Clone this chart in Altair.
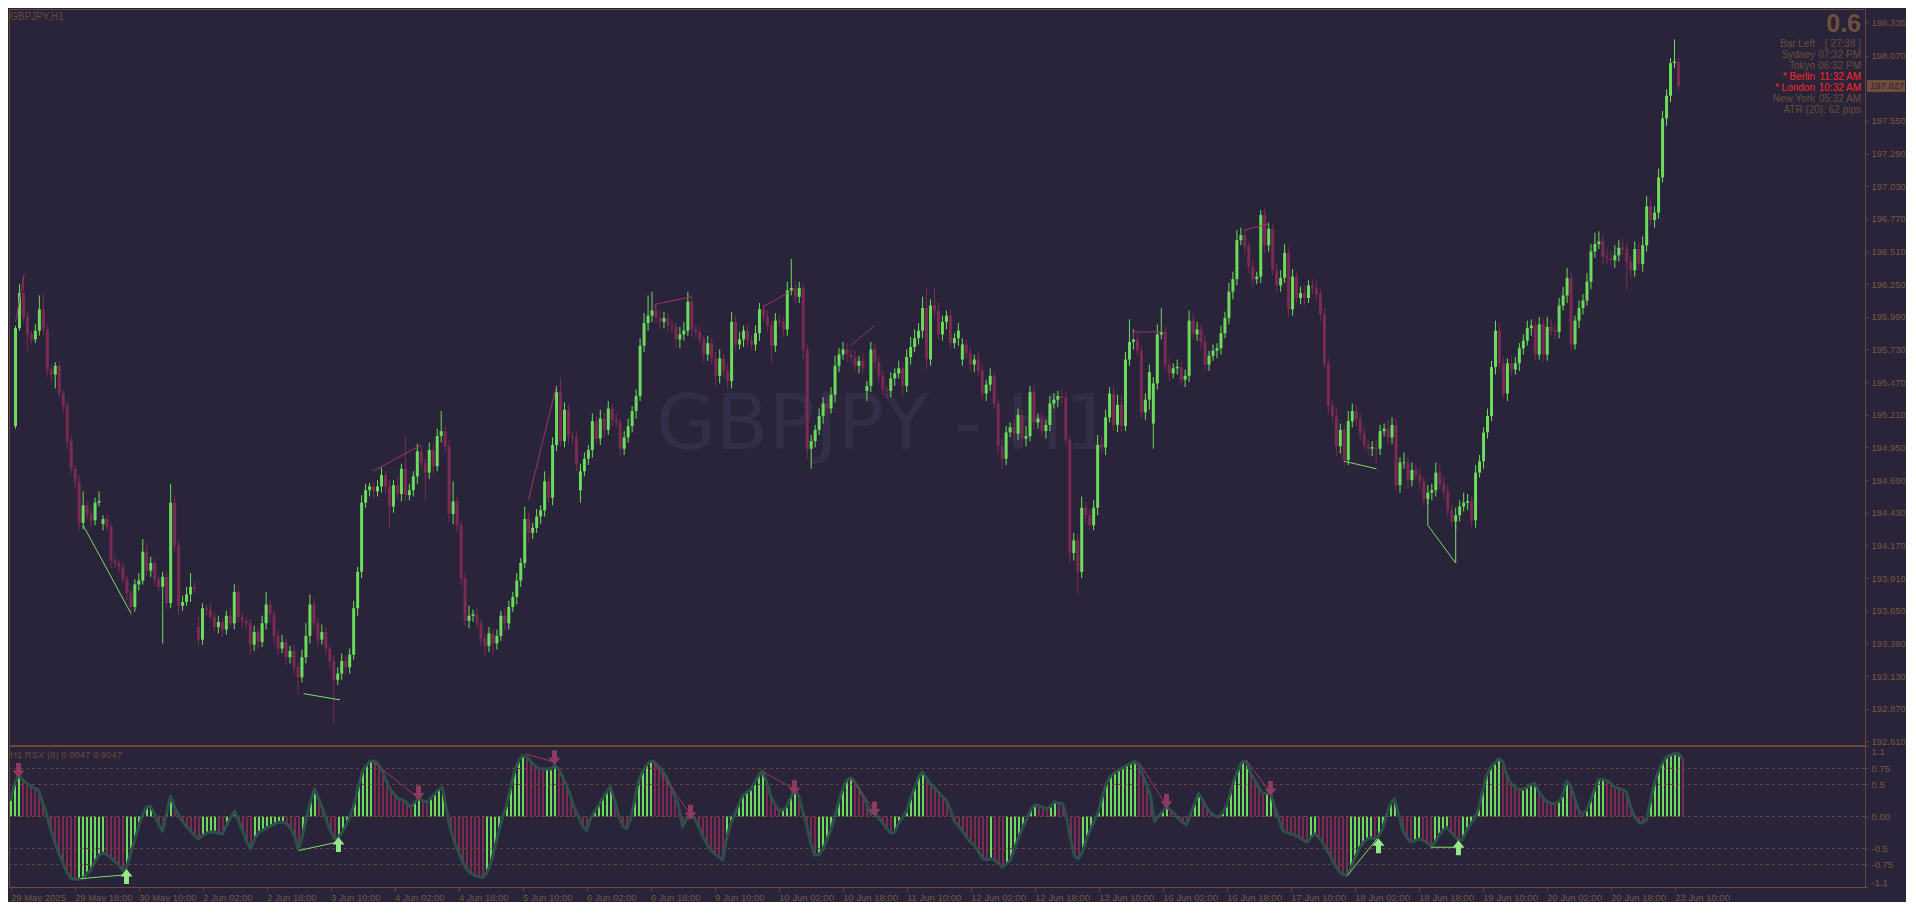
import json
import altair as alt
import pandas as pd

# ---------------- style ----------------
BG = "#292439"
FRAME = "#6b4838"
TXT = "#7a5643"
INFO = "#6b4c3d"
RED = "#ff2626"
UPC = "#6cdc5c"
DNC = "#7b2b52"
RSX_LINE = "#2d504b"
WATER = "#332e47"
FONT = "Liberation Sans"

# ---------------- data ----------------
x_labels = ["29 May 2025", "29 May 18:00", "30 May 10:00", "2 Jun 02:00", "2 Jun 18:00",
            "3 Jun 10:00", "4 Jun 02:00", "4 Jun 18:00", "5 Jun 10:00", "6 Jun 02:00",
            "6 Jun 18:00", "9 Jun 10:00", "10 Jun 02:00", "10 Jun 18:00", "11 Jun 10:00",
            "12 Jun 02:00", "12 Jun 18:00", "13 Jun 10:00", "16 Jun 02:00", "16 Jun 18:00",
            "17 Jun 10:00", "18 Jun 02:00", "18 Jun 18:00", "19 Jun 10:00", "20 Jun 02:00",
            "20 Jun 18:00", "23 Jun 10:00"]
x_tick_bars = [0, 16, 32, 48, 64, 80, 96, 112, 128, 144, 160, 176, 192, 208, 224,
               240, 256, 272, 288, 304, 320, 336, 352, 368, 384, 400, 416]

price_ticks = [192.610, 192.870, 193.130, 193.390, 193.650, 193.910, 194.170, 194.430,
               194.690, 194.950, 195.210, 195.470, 195.730, 195.990, 196.250, 196.510,
               196.770, 197.030, 197.290, 197.550, 198.070, 198.335]
rsx_ticks = [-1.1, -0.75, -0.5, 0.0, 0.5, 0.75, 1.1]
rsx_levels = [0.75, 0.5, 0.0, -0.5, -0.75]

first_open = 195.12
# bars whose open differs from the previous close (price gaps)
open_gaps = {22: 194.34, 46: 193.52, 142: 194.61, 214: 195.40, 238: 195.65, 286: 195.14}
close = [
    195.90, 196.18, 195.99, 195.85, 195.81, 195.88, 196.05, 195.89, 195.57, 195.53,
    195.60, 195.38, 195.28, 195.00, 194.78, 194.68, 194.35, 194.49, 194.42, 194.37,
    194.51, 194.52, 194.38, 194.32, 194.05, 194.03, 194.00, 193.90, 193.79, 193.68,
    193.86, 193.89, 194.12, 193.97, 194.03, 193.90, 193.84, 193.92, 193.71, 194.51,
    194.17, 193.69, 193.72, 193.78, 193.84, 193.83, 193.42, 193.67, 193.66, 193.60,
    193.52, 193.56, 193.50, 193.61, 193.55, 193.80, 193.60, 193.57, 193.55, 193.38,
    193.48, 193.40, 193.55, 193.70, 193.62, 193.45, 193.35, 193.40, 193.28, 193.33,
    193.20, 193.12, 193.28, 193.45, 193.70, 193.55, 193.42, 193.48, 193.35, 193.25,
    193.10, 193.15, 193.25, 193.20, 193.30, 193.67, 193.96, 194.51, 194.61, 194.64,
    194.60, 194.64, 194.73, 194.64, 194.48, 194.65, 194.58, 194.78, 194.57, 194.61,
    194.72, 194.92, 194.83, 194.75, 194.93, 194.80, 195.04, 195.08, 194.96, 194.42,
    194.52, 194.33, 193.91, 193.57, 193.61, 193.62, 193.55, 193.43, 193.37, 193.47,
    193.39, 193.45, 193.61, 193.55, 193.68, 193.76, 193.89, 194.03, 194.38, 194.27,
    194.31, 194.40, 194.45, 194.68, 194.55, 194.97, 195.39, 195.00, 195.25, 195.04,
    195.03, 194.82, 194.76, 194.86, 194.93, 195.16, 195.02, 195.18, 195.09, 195.26,
    195.17, 195.15, 194.94, 195.03, 195.12, 195.24, 195.36, 195.76, 195.94, 196.00,
    196.04, 195.98, 195.95, 195.98, 195.92, 195.91, 195.81, 195.85, 195.88, 196.11,
    195.89, 195.87, 195.81, 195.69, 195.78, 195.66, 195.52, 195.66, 195.56, 195.48,
    195.95, 195.77, 195.81, 195.88, 195.80, 195.77, 195.86, 196.05, 195.99, 195.92,
    195.76, 195.96, 195.95, 195.89, 196.20, 196.22, 196.15, 196.22, 195.73, 194.94,
    195.00, 195.09, 195.20, 195.30, 195.26, 195.37, 195.60, 195.69, 195.73, 195.69,
    195.67, 195.60, 195.64, 195.58, 195.44, 195.73, 195.63, 195.52, 195.41, 195.40,
    195.50, 195.54, 195.58, 195.44, 195.67, 195.75, 195.82, 195.88, 196.06, 195.65,
    196.08, 196.04, 195.85, 195.95, 196.00, 195.78, 195.82, 195.88, 195.77, 195.70,
    195.61, 195.65, 195.56, 195.38, 195.45, 195.52, 195.30, 194.96, 194.86, 195.07,
    195.11, 195.06, 195.21, 195.02, 195.04, 195.39, 195.15, 195.18, 195.08, 195.13,
    195.30, 195.33, 195.36, 195.35, 195.01, 194.11, 194.21, 193.96, 194.47, 194.41,
    194.33, 194.47, 194.97, 194.95, 195.19, 195.38, 195.13, 195.29, 195.12, 195.65,
    195.79, 195.81, 195.72, 195.23, 195.33, 195.55, 195.46, 195.85, 195.87, 195.61,
    195.54, 195.58, 195.59, 195.49, 195.52, 195.96, 195.85, 195.89, 195.79, 195.61,
    195.68, 195.72, 195.74, 195.86, 195.98, 196.19, 196.29, 196.60, 196.64, 196.55,
    196.39, 196.29, 196.31, 196.80, 196.56, 196.69, 196.36, 196.24, 196.30, 196.50,
    196.05, 196.31, 196.14, 196.18, 196.14, 196.24, 196.22, 196.17, 196.01, 195.62,
    195.28, 195.20, 194.96, 195.09, 194.85, 195.16, 195.24, 195.18, 195.06, 194.97,
    194.94, 194.95, 194.94, 195.08, 195.10, 195.03, 195.13, 194.65, 194.83, 194.83,
    194.69, 194.77, 194.73, 194.68, 194.54, 194.59, 194.61, 194.75, 194.66, 194.60,
    194.45, 194.36, 194.41, 194.48, 194.51, 194.52, 194.37, 194.75, 194.84, 195.07,
    195.20, 195.59, 195.88, 195.62, 195.38, 195.62, 195.57, 195.62, 195.74, 195.80,
    195.90, 195.92, 195.69, 195.93, 195.69, 195.91, 195.88, 195.87, 196.08, 196.16,
    196.30, 195.77, 195.96, 196.06, 196.12, 196.27, 196.51, 196.57, 196.59, 196.47,
    196.46, 196.44, 196.48, 196.54, 196.53, 196.43, 196.36, 196.53, 196.41, 196.56,
    196.87, 196.76, 196.82, 197.10, 197.57, 197.75, 198.01, 198.02, 197.827,
]

# wick lengths above / below the body, in pips
up_wick = [
    2, 7, 13, 4, 3, 5, 11, 12, 3, 4, 3, 4, 3, 3, 4, 3, 5, 11, 4, 5,
    4, 8, 3, 4, 3, 5, 3, 4, 3, 3, 4, 6, 10, 8, 5, 4, 3, 4, 5, 15,
    6, 4, 5, 6, 11, 4, 8, 4, 3, 5, 4, 5, 3, 4, 6, 6, 5, 4, 3, 3,
    5, 4, 6, 10, 4, 3, 5, 6, 3, 4, 5, 4, 6, 10, 8, 5, 4, 6, 4, 3,
    4, 5, 6, 4, 5, 6, 4, 6, 5, 3, 4, 5, 6, 3, 5, 4, 6, 4, 26, 5,
    4, 6, 5, 3, 6, 4, 6, 16, 4, 5, 16, 4, 3, 4, 8, 4, 5, 3, 4, 5,
    4, 5, 4, 6, 5, 4, 6, 4, 10, 5, 4, 6, 4, 8, 5, 6, 5, 11, 6, 5,
    4, 5, 6, 5, 4, 6, 4, 7, 5, 6, 4, 5, 3, 5, 6, 4, 5, 6, 8, 16,
    15, 4, 6, 5, 4, 5, 3, 6, 7, 8, 5, 4, 5, 3, 6, 4, 5, 7, 4, 6,
    8, 5, 6, 4, 5, 4, 6, 5, 4, 5, 4, 6, 5, 4, 7, 23, 6, 5, 4, 4,
    5, 4, 6, 5, 4, 6, 8, 5, 6, 5, 4, 5, 4, 6, 4, 6, 5, 4, 5, 3,
    5, 4, 6, 5, 6, 8, 7, 6, 9, 17, 5, 14, 6, 5, 4, 5, 4, 6, 5, 4,
    5, 4, 6, 5, 4, 6, 3, 4, 6, 5, 4, 6, 5, 4, 8, 5, 6, 4, 5, 4,
    6, 5, 4, 5, 4, 3, 6, 5, 9, 4, 5, 6, 8, 7, 6, 5, 6, 8, 7, 6,
    18, 8, 5, 4, 5, 6, 5, 8, 19, 4, 5, 4, 6, 4, 5, 8, 5, 6, 4, 5,
    4, 5, 4, 6, 5, 7, 6, 8, 6, 5, 4, 5, 4, 4, 6, 5, 4, 5, 6, 7,
    5, 6, 4, 5, 6, 4, 5, 6, 4, 5, 4, 5, 6, 5, 4, 8, 6, 5, 4, 5,
    4, 5, 6, 5, 4, 7, 6, 5, 4, 8, 5, 6, 4, 5, 4, 6, 5, 8, 7, 6,
    5, 4, 6, 5, 8, 6, 4, 6, 5, 4, 6, 5, 8, 6, 5, 4, 6, 5, 4, 5,
    6, 5, 4, 6, 5, 8, 6, 5, 6, 7, 8, 5, 4, 6, 5, 7, 6, 9, 8, 5,
    6, 5, 8, 6, 7, 5, 4, 6, 5, 7, 8, 6, 5, 7, 6, 5, 4, 18, 4,
]
dn_wick = [
    2, 2, 4, 13, 4, 3, 4, 5, 6, 5, 11, 4, 5, 6, 4, 5, 6, 5, 4, 5,
    4, 3, 5, 4, 6, 4, 5, 3, 6, 8, 4, 5, 3, 4, 5, 6, 4, 45, 5, 4,
    5, 7, 4, 3, 6, 4, 5, 4, 5, 3, 4, 5, 6, 4, 3, 5, 4, 6, 5, 8,
    5, 6, 4, 5, 6, 7, 5, 4, 6, 5, 6, 14, 4, 5, 6, 5, 6, 4, 5, 6,
    35, 4, 5, 6, 5, 4, 6, 5, 4, 5, 6, 4, 5, 6, 17, 5, 4, 6, 5, 4,
    5, 6, 4, 22, 5, 6, 4, 5, 4, 6, 8, 5, 6, 4, 6, 5, 4, 6, 8, 5,
    9, 5, 4, 6, 5, 4, 6, 5, 4, 8, 5, 4, 6, 5, 4, 6, 5, 4, 5, 6,
    5, 6, 10, 4, 5, 6, 4, 5, 6, 4, 5, 4, 6, 5, 4, 5, 6, 4, 5, 6,
    5, 4, 6, 5, 4, 5, 6, 7, 5, 4, 6, 5, 4, 6, 5, 4, 8, 6, 5, 7,
    6, 5, 4, 6, 5, 4, 5, 6, 4, 5, 14, 5, 4, 6, 5, 4, 6, 5, 7, 8,
    16, 5, 4, 6, 5, 4, 6, 5, 4, 6, 5, 4, 6, 5, 8, 5, 6, 5, 4, 6,
    5, 6, 4, 8, 5, 6, 4, 5, 6, 8, 5, 6, 4, 5, 6, 5, 4, 6, 5, 4,
    5, 6, 4, 5, 6, 5, 4, 6, 8, 5, 4, 6, 5, 7, 6, 4, 6, 5, 4, 6,
    5, 4, 6, 5, 4, 8, 6, 18, 5, 6, 5, 4, 6, 5, 6, 4, 5, 6, 5, 4,
    5, 6, 4, 5, 6, 8, 20, 5, 4, 5, 6, 4, 5, 4, 6, 5, 4, 5, 6, 5,
    5, 4, 6, 5, 4, 5, 6, 5, 4, 6, 5, 6, 4, 5, 6, 5, 4, 6, 5, 4,
    6, 5, 4, 5, 6, 4, 5, 6, 5, 4, 6, 5, 8, 6, 5, 4, 5, 6, 5, 4,
    5, 6, 12, 5, 4, 6, 5, 4, 6, 5, 6, 5, 4, 6, 5, 4, 6, 5, 4, 6,
    5, 4, 6, 5, 4, 6, 5, 6, 4, 6, 5, 4, 6, 5, 4, 6, 5, 4, 6, 5,
    4, 6, 5, 4, 6, 5, 4, 6, 5, 4, 6, 5, 4, 6, 5, 4, 6, 5, 4, 6,
    5, 4, 6, 5, 4, 23, 6, 5, 4, 6, 5, 4, 6, 5, 4, 6, 5, 4, 3,
]

rsx = [
    0.25, 0.52, 0.64, 0.58, 0.52, 0.48, 0.44, 0.41, 0.22, 0.05,
    -0.20, -0.38, -0.56, -0.70, -0.86, -0.96, -0.98, -0.98, -0.97, -0.90,
    -0.84, -0.72, -0.61, -0.57, -0.59, -0.64, -0.69, -0.75, -0.84, -0.80,
    -0.58, -0.38, -0.16, 0.02, 0.15, 0.16, 0.04, -0.12, -0.23, 0.05,
    0.32, 0.15, 0.02, -0.08, -0.16, -0.22, -0.30, -0.35, -0.30, -0.26,
    -0.24, -0.24, -0.26, -0.27, -0.14, -0.02, 0.08, -0.06, -0.22, -0.38,
    -0.51, -0.36, -0.25, -0.22, -0.18, -0.15, -0.12, -0.09, -0.09, -0.11,
    -0.18, -0.30, -0.52, -0.30, -0.02, 0.24, 0.43, 0.28, 0.12, -0.06,
    -0.22, -0.35, -0.32, -0.24, -0.12, 0.02, 0.22, 0.48, 0.70, 0.80,
    0.87, 0.86, 0.82, 0.70, 0.55, 0.42, 0.34, 0.28, 0.26, 0.22,
    0.15, 0.22, 0.28, 0.25, 0.22, 0.28, 0.35, 0.42, 0.45, 0.10,
    -0.20, -0.40, -0.55, -0.70, -0.82, -0.88, -0.92, -0.94, -0.95, -0.88,
    -0.75, -0.50, -0.25, -0.02, 0.17, 0.45, 0.70, 0.86, 0.95, 0.93,
    0.87, 0.80, 0.75, 0.74, 0.74, 0.74, 0.80, 0.75, 0.62, 0.48,
    0.32, 0.12, 0.00, -0.14, -0.22, -0.04, 0.08, 0.17, 0.28, 0.38,
    0.47, 0.26, 0.02, -0.14, -0.19, -0.04, 0.25, 0.55, 0.70, 0.80,
    0.87, 0.85, 0.78, 0.72, 0.62, 0.48, 0.32, 0.18, -0.16, -0.04,
    -0.01, -0.03, -0.15, -0.30, -0.42, -0.52, -0.58, -0.63, -0.68, -0.35,
    -0.12, 0.02, 0.18, 0.32, 0.38, 0.42, 0.52, 0.64, 0.71, 0.55,
    0.33, 0.20, 0.10, 0.10, 0.15, 0.30, 0.41, 0.33, 0.10, -0.12,
    -0.40, -0.60, -0.60, -0.52, -0.38, -0.22, -0.02, 0.22, 0.42, 0.56,
    0.60, 0.55, 0.45, 0.33, 0.20, 0.05, 0.07, -0.02, -0.10, -0.18,
    -0.26, -0.25, -0.11, -0.02, 0.08, 0.28, 0.45, 0.62, 0.70, 0.60,
    0.51, 0.45, 0.38, 0.31, 0.24, 0.10, -0.08, -0.15, -0.23, -0.32,
    -0.40, -0.45, -0.55, -0.65, -0.68, -0.66, -0.68, -0.73, -0.79, -0.74,
    -0.68, -0.50, -0.33, -0.18, -0.05, 0.10, 0.18, 0.17, 0.15, 0.12,
    0.16, 0.23, 0.21, 0.20, 0.00, -0.35, -0.62, -0.66, -0.55, -0.36,
    -0.20, -0.06, 0.08, 0.32, 0.52, 0.63, 0.68, 0.72, 0.76, 0.80,
    0.83, 0.86, 0.80, 0.66, 0.50, 0.33, -0.08, 0.00, 0.08, 0.15,
    0.10, 0.04, -0.03, -0.09, -0.13, 0.04, 0.20, 0.36, 0.26, 0.14,
    0.06, 0.01, -0.01, 0.06, 0.17, 0.38, 0.60, 0.74, 0.86, 0.86,
    0.68, 0.58, 0.46, 0.36, 0.36, 0.38, 0.15, -0.02, -0.22, -0.25,
    -0.27, -0.29, -0.32, -0.36, -0.40, -0.34, -0.27, -0.32, -0.40, -0.52,
    -0.62, -0.75, -0.84, -0.90, -0.92, -0.82, -0.66, -0.52, -0.42, -0.36,
    -0.33, -0.35, -0.30, -0.20, 0.02, 0.20, 0.28, 0.05, -0.20, -0.32,
    -0.40, -0.38, -0.35, -0.37, -0.40, -0.46, -0.42, -0.30, -0.22, -0.17,
    -0.24, -0.30, -0.37, -0.36, -0.22, -0.12, -0.04, 0.12, 0.40, 0.64,
    0.76, 0.83, 0.90, 0.86, 0.66, 0.53, 0.46, 0.42, 0.42, 0.45,
    0.50, 0.52, 0.40, 0.30, 0.23, 0.21, 0.20, 0.23, 0.32, 0.55,
    0.48, 0.30, 0.10, 0.04, 0.10, 0.25, 0.42, 0.58, 0.58, 0.56,
    0.52, 0.46, 0.44, 0.42, 0.38, 0.15, 0.00, -0.09, -0.10, -0.05,
    0.25, 0.52, 0.72, 0.84, 0.93, 0.96, 0.98, 0.98, 0.9047,
]

# divergence lines on the price pane: (bar, price) points
div_price_up = [
    [(17, 194.33), (29, 193.63)],
    [(72.4, 192.99), (81.6, 192.94)],
    [(334, 194.84), (342.1, 194.78)],
    [(355, 194.57), (355, 194.33), (362, 194.03), (362, 194.36)],
]
div_price_dn = [
    [(0, 195.95), (2.2, 196.33)],
    [(89.8, 194.76), (102, 194.97)],
    [(128.9, 194.53), (135.9, 195.43)],
    [(160.8, 196.05), (160.8, 196.09), (169.9, 196.15)],
    [(187.9, 196.07), (194.1, 196.18)],
    [(209.9, 195.76), (215.9, 195.92)],
    [(281, 195.81), (281, 195.87), (288.3, 195.87)],
    [(308.9, 196.68), (314.9, 196.73)],
]
# divergence lines on the RSX pane: (bar, value) points
div_rsx_up = [
    [(17.5, -0.97), (28.7, -0.91)],
    [(72.2, -0.53), (81.7, -0.40)],
    [(334.2, -0.92), (341.6, -0.35)],
    [(355.1, -0.48), (361.0, -0.48)],
]
div_rsx_dn = [
    [(90.6, 0.85), (101.8, 0.30)],
    [(128.6, 0.98), (135.9, 0.85)],
    [(160.4, 0.875), (169.9, 0.04)],
    [(188.1, 0.70), (195.9, 0.43)],
    [(209.9, 0.61), (216.1, 0.09)],
    [(281.9, 0.86), (289.0, 0.17)],
    [(308.8, 0.89), (314.9, 0.38)],
]
arrows_down = [(2, 0.60), (102, 0.25), (136, 0.80), (170, -0.05),
               (196, 0.33), (216, 0.00), (289, 0.12), (315, 0.32)]
arrows_up = [(29, -0.82), (82, -0.32), (342, -0.34), (362, -0.37)]

info_labels = ["Bar Left", "Sydney", "Tokyo", "* Berlin", "* London", "New York"]
info_values = ["[ 27:38 ]", "07:32 PM", "06:32 PM", "11:32 AM", "10:32 AM", "05:32 AM"]
info_red = [False, False, False, True, True, False]
atr_text = "ATR (20): 62 pips"
spread_text = "0.6"
symbol_text = "GBPJPY,H1"
watermark_text = "GBPJPY - H1"
indicator_text = "H1  RSX (8) 0.9047 0.9047"
last_price = 197.827

n = len(close)
for name, arr in [("up_wick", up_wick), ("dn_wick", dn_wick), ("rsx", rsx)]:
    if len(arr) != n:
        raise SystemExit(f"{name} has {len(arr)} values, close has {n}")

# ---------------- frames ----------------
rows = []
prev = first_open
for i, c in enumerate(close):
    o = open_gaps.get(i, prev)
    rows.append({"i": i, "o": o, "c": c,
                 "hi": max(o, c) + up_wick[i] / 100.0,
                 "lo": min(o, c) - dn_wick[i] / 100.0,
                 "d": "up" if c >= o else "down",
                 "doji": abs(c - o) < 0.012})
    prev = c
candles = pd.DataFrame(rows)
dojis = candles[candles["doji"]].drop(columns=["doji"])
candles = candles.drop(columns=["doji"])

rrows = []
for i, v in enumerate(rsx):
    rising = i == 0 or v >= rsx[i - 1]
    rrows.append({"i": i, "v": v, "d": "up" if rising else "down"})
rdf = pd.DataFrame(rrows)


def seg_frame(groups_with_colors):
    out = []
    k = 0
    for groups, col in groups_with_colors:
        for pts in groups:
            for j, (x, y) in enumerate(pts):
                out.append({"seg": k, "j": j, "x": x, "y": y, "col": col})
            k += 1
    return pd.DataFrame(out)


div_price = seg_frame([(div_price_up, "#7ddc6c"), (div_price_dn, "#9b3566")])
div_rsx = seg_frame([(div_rsx_up, "#7ddc6c"), (div_rsx_dn, "#9b3566")])

# ---------------- scales / axes ----------------
W = 1856
H_MAIN = 736
H_IND = 141
# 4 px per bar, bar centres on half pixels so bodies and wicks are crisp
XS = alt.Scale(domain=[-0.375, -0.375 + W / 4.0], nice=False, zero=False)
YS = alt.Scale(domain=[192.581, 198.441], nice=False, zero=False)
VS = alt.Scale(domain=[-1.1, 1.1], nice=False, zero=False)
CS = alt.Scale(domain=["up", "down"], range=[UPC, DNC])

price_axis = alt.Axis(orient="right", values=price_ticks, format=".3f", title=None,
                      grid=False, tickSize=3, labelPadding=3, labelFlush=False,
                      labelOverlap=False)
x_axis = alt.Axis(values=x_tick_bars, labelExpr=f"{json.dumps(x_labels)}[round(datum.value / 16)]",
                  title=None, tickSize=4, labelAlign="left", labelBaseline="top", labelPadding=1,
                  labelFlush=False, labelOverlap=False, grid=False)
v_axis = alt.Axis(orient="right", values=rsx_ticks,
                  labelExpr="datum.value == 0 ? '0.00' : '' + datum.value",
                  title=None, tickSize=3, labelPadding=3, labelFlush=True, labelOverlap=False, grid=False)

PX = alt.X("i:Q", scale=XS, axis=None)

# ---------------- price pane ----------------
water = alt.Chart(pd.DataFrame({"t": [watermark_text]})).mark_text(
    align="left", baseline="alphabetic", font="DejaVu Sans", fontSize=77, color=WATER
).encode(x=alt.value(647), y=alt.value(440), text="t:N")

cd = alt.Chart(candles)
wicks = cd.mark_rule(strokeWidth=1).encode(
    x=PX,
    y=alt.Y("lo:Q", scale=YS, axis=price_axis),
    y2="hi:Q",
    color=alt.Color("d:N", scale=CS, legend=None),
)
bodies = cd.mark_bar(width=3).encode(
    x=PX,
    y=alt.Y("o:Q", scale=YS, axis=price_axis),
    y2="c:Q",
    color=alt.Color("d:N", scale=CS, legend=None),
)
doji_marks = alt.Chart(dojis).mark_tick(orient="horizontal", size=3, thickness=1).encode(
    x=PX,
    y=alt.Y("c:Q", scale=YS, axis=price_axis),
    color=alt.Color("d:N", scale=CS, legend=None),
)
plines = alt.Chart(div_price).mark_line(strokeWidth=1).encode(
    x=alt.X("x:Q", scale=XS, axis=None),
    y=alt.Y("y:Q", scale=YS, axis=price_axis),
    detail="seg:N", order="j:Q",
    color=alt.Color("col:N", scale=None),
)

sym = alt.Chart(pd.DataFrame({"t": [symbol_text]})).mark_text(
    align="left", baseline="alphabetic", font=FONT, fontSize=10, color=FRAME
).encode(x=alt.value(1), y=alt.value(11), text="t:N")

big = alt.Chart(pd.DataFrame({"t": [spread_text]})).mark_text(
    align="right", baseline="alphabetic", font=FONT, fontSize=25, fontWeight="bold", color="#6e503e"
).encode(x=alt.value(W - 4), y=alt.value(23), text="t:N")

info_df = pd.DataFrame({
    "lab": info_labels, "val": info_values,
    "col": [RED if r else INFO for r in info_red],
    "py": [38 + 11 * k for k in range(len(info_labels))],
})
info_lab = alt.Chart(info_df).mark_text(align="right", baseline="alphabetic", font=FONT, fontSize=10).encode(
    x=alt.value(W - 50), y=alt.Y("py:Q", scale=None), text="lab:N", color=alt.Color("col:N", scale=None))
info_val = alt.Chart(info_df).mark_text(align="right", baseline="alphabetic", font=FONT, fontSize=10).encode(
    x=alt.value(W - 4), y=alt.Y("py:Q", scale=None), text="val:N", color=alt.Color("col:N", scale=None))
atr = alt.Chart(pd.DataFrame({"t": [atr_text]})).mark_text(
    align="right", baseline="alphabetic", font=FONT, fontSize=10, color=INFO
).encode(x=alt.value(W - 4), y=alt.value(104), text="t:N")

lp_df = pd.DataFrame({"p": [last_price], "t": [f"{last_price:.3f}"]})
lp_box = alt.Chart(lp_df).mark_rect(color="#6e4d3b", yOffset=-6, y2Offset=6).encode(
    x=alt.value(W + 2), x2=alt.value(W + 40),
    y=alt.Y("p:Q", scale=YS, axis=price_axis), y2=alt.Y2("p:Q"))
lp_txt = alt.Chart(lp_df).mark_text(align="left", baseline="middle", font=FONT, fontSize=9.5, color="#2a2436").encode(
    x=alt.value(W + 5), y=alt.Y("p:Q", scale=YS, axis=price_axis), text="t:N")

main = alt.layer(water, wicks, bodies, doji_marks, plines, sym, big, info_lab, info_val, atr,
                 lp_box, lp_txt).properties(width=W, height=H_MAIN)

# ---------------- RSX pane ----------------
IX = alt.X("i:Q", scale=XS, axis=x_axis)
hist = alt.Chart(rdf).mark_rule(strokeWidth=2, xOffset=0.5).encode(
    x=IX,
    y=alt.Y("v:Q", scale=VS, axis=v_axis),
    y2=alt.datum(0),
    color=alt.Color("d:N", scale=CS, legend=None),
)
lev = alt.Chart(pd.DataFrame({"v": rsx_levels})).mark_rule(color=FRAME, strokeDash=[3, 3], strokeWidth=1).encode(
    y=alt.Y("v:Q", scale=VS, axis=v_axis))
rline = alt.Chart(rdf).mark_line(color=RSX_LINE, strokeWidth=3, strokeJoin="round").encode(
    x=IX, y=alt.Y("v:Q", scale=VS, axis=v_axis))
rdiv = alt.Chart(div_rsx).mark_line(strokeWidth=1).encode(
    x=alt.X("x:Q", scale=XS, axis=x_axis), y=alt.Y("y:Q", scale=VS, axis=v_axis),
    detail="seg:N", order="j:Q", color=alt.Color("col:N", scale=None))

DOWN_PATH = "M-0.33,-1L0.33,-1L0.33,0L0.8,0L0,1L-0.8,0L-0.33,0Z"
UP_PATH = "M-0.33,1L0.33,1L0.33,0L0.8,0L0,-1L-0.8,0L-0.33,0Z"
adn = alt.Chart(pd.DataFrame(arrows_down, columns=["i", "v"])).mark_point(
    shape=DOWN_PATH, filled=True, size=225, color="#8e3a63", opacity=1, strokeWidth=0, yOffset=-7.5
).encode(x=IX, y=alt.Y("v:Q", scale=VS, axis=v_axis))
aup = alt.Chart(pd.DataFrame(arrows_up, columns=["i", "v"])).mark_point(
    shape=UP_PATH, filled=True, size=225, color="#93e889", opacity=1, strokeWidth=0, yOffset=7.5
).encode(x=IX, y=alt.Y("v:Q", scale=VS, axis=v_axis))
ind_lab = alt.Chart(pd.DataFrame({"t": [indicator_text]})).mark_text(
    align="left", baseline="alphabetic", font=FONT, fontSize=9.5, color=FRAME
).encode(x=alt.value(1), y=alt.value(12), text="t:N")

ind = alt.layer(hist, lev, rline, rdiv, adn, aup, ind_lab).properties(width=W, height=H_IND)

chart = alt.vconcat(main, ind, spacing=1, bounds="flush").resolve_scale(
    x="independent", y="independent"
).properties(
    background=BG, padding={"left": 0, "top": 0, "right": 0, "bottom": 0}
).configure_view(stroke=FRAME, strokeWidth=1).configure_axis(
    labelFont=FONT, labelFontSize=9.5, labelColor=TXT, tickColor=FRAME, domainColor=FRAME,
    domainWidth=1, tickWidth=1
)

chart.save("out.html", embed_options={"renderer": "svg", "actions": False})
